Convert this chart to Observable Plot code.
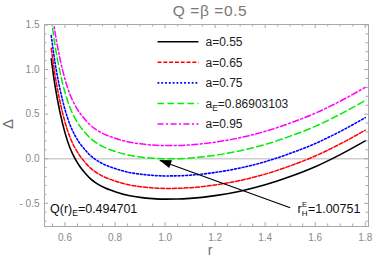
<!DOCTYPE html>
<html><head><meta charset="utf-8">
<script src="https://cdn.jsdelivr.net/npm/d3@7"></script>
<script src="https://cdn.jsdelivr.net/npm/@observablehq/plot@0.6"></script>
<style>body{margin:0;background:#fff} svg{display:block}</style>
</head><body><div id="chart"></div>
<script>
// ---- data ----
const r = [0.545,0.56,0.58,0.60,0.62,0.64,0.66,0.68,0.70,0.72,0.75,0.80,0.85,0.90,0.95,1.00,1.05,1.10,1.20,1.30,1.40,1.50,1.60,1.70,1.80];
const deltaA055 = [1.12,0.82,0.52,0.29,0.12,0.0,-0.09,-0.16,-0.22,-0.265,-0.315,-0.37,-0.41,-0.433,-0.447,-0.453,-0.452,-0.445,-0.414,-0.364,-0.293,-0.20,-0.09,0.046,0.20];
const deltaA065 = [1.24,0.94,0.64,0.41,0.24,0.12,0.03,-0.04,-0.10,-0.145,-0.195,-0.25,-0.29,-0.313,-0.327,-0.333,-0.332,-0.325,-0.294,-0.244,-0.173,-0.08,0.03,0.166,0.32];
const deltaA075 = [1.38,1.08,0.78,0.55,0.38,0.26,0.17,0.10,0.04,-0.005,-0.055,-0.11,-0.15,-0.173,-0.187,-0.193,-0.192,-0.185,-0.154,-0.104,-0.033,0.06,0.17,0.306,0.46];
const deltaAE   = [1.573,1.273,0.973,0.743,0.573,0.453,0.363,0.293,0.233,0.188,0.138,0.083,0.043,0.02,0.006,0.0,0.001,0.008,0.039,0.089,0.16,0.253,0.363,0.499,0.653];
const deltaA095 = [1.72,1.42,1.12,0.89,0.72,0.60,0.51,0.44,0.38,0.335,0.285,0.23,0.19,0.167,0.153,0.147,0.148,0.155,0.186,0.236,0.307,0.40,0.51,0.646,0.80];
const seriesNames = ["a=0.55","a=0.65","a=0.75","aE=0.86903103","a=0.95"];
const xMajor = [0.6,0.8,1.0,1.2,1.4,1.6,1.8];
const xMinor = [0.55,0.65,0.7,0.75,0.85,0.9,0.95,1.05,1.1,1.15,1.25,1.3,1.35,1.45,1.5,1.55,1.65,1.7,1.75];
const yMajor = [-0.5,0.0,0.5,1.0,1.5];
const yMinor = [-0.7,-0.6,-0.4,-0.3,-0.2,-0.1,0.1,0.2,0.3,0.4,0.6,0.7,0.8,0.9,1.1,1.2,1.3,1.4];
const arrowFrom = {r:1.50, d:-0.55};
const arrowTo = {r:0.979, d:-0.02};
const noteQ = {r:0.542, d:-0.615};
const noteRH = {r:1.531, d:-0.615};

// ---- styles ----
const styles = [
  {color:"#000000", dash:null, w:1.6},
  {color:"#ff0000", dash:"4,1.8", w:1.5},
  {color:"#0000ff", dash:"1.8,2", w:1.6},
  {color:"#00ee00", dash:"6.5,3.5", w:1.5},
  {color:"#ff00ff", dash:"6,2.5,2,2.5", w:1.5}
];
const values = [deltaA055,deltaA065,deltaA075,deltaAE,deltaA095];

const W=374,H=257,mL=44,mR=6,mT=24,mB=31;
const fw=W-mL-mR, fh=H-mT-mB;
const frameCol="#a8a8a8";

const lineMarks = values.map((vals,k)=>Plot.line(r.map((x,i)=>({r:x,d:vals[i]})), {
  x:"r", y:"d", stroke: styles[k].color, strokeWidth: styles[k].w,
  strokeDasharray: styles[k].dash || undefined, curve:"monotone-x", clip:true
}));

const chart = Plot.plot({
  width: W, height: H,
  marginLeft: mL, marginRight: mR, marginTop: mT, marginBottom: mB,
  style: {fontFamily: "'Liberation Sans', Arial, sans-serif", fontSize: "10px", color: "#8a8a8a", background: "white", overflow:"visible"},
  x: {domain:[0.518,1.813], ticks: xMajor, tickSize: 0, tickPadding: 7, label: null, tickFormat: d=>d.toFixed(1)},
  y: {domain:[-0.76,1.505], ticks: yMajor, tickSize: 0, tickPadding: 5, label: null,
      tickFormat: d => d<0 ? "- "+Math.abs(d).toFixed(1) : d.toFixed(1)},
  marks: [
    Plot.ruleY([0], {stroke:"#cfcfcf", strokeWidth:1.4}),
    ...lineMarks,
    Plot.link([{}], {x1:()=>arrowFrom.r, y1:()=>arrowFrom.d, x2:()=>arrowTo.r, y2:()=>arrowTo.d, stroke:"#000", strokeWidth:1.2}),
    Plot.frame({stroke: frameCol}),
    Plot.tickX(xMajor, {x:d=>d, insetTop: fh-4, stroke: frameCol}),
    Plot.tickX(xMinor, {x:d=>d, insetTop: fh-2.5, stroke: frameCol}),
    Plot.tickX(xMajor, {x:d=>d, insetBottom: fh-4, stroke: frameCol}),
    Plot.tickX(xMinor, {x:d=>d, insetBottom: fh-2.5, stroke: frameCol}),
    Plot.tickY(yMajor, {y:d=>d, insetRight: fw-4, stroke: frameCol}),
    Plot.tickY(yMinor, {y:d=>d, insetRight: fw-2.5, stroke: frameCol}),
    Plot.tickY(yMajor, {y:d=>d, insetLeft: fw-4, stroke: frameCol}),
    Plot.tickY(yMinor, {y:d=>d, insetLeft: fw-2.5, stroke: frameCol})
  ]
});
document.getElementById("chart").appendChild(chart);

// ---- scales for annotations ----
function scaleFn(name){
  const s = chart.scale(name);
  if (s && typeof s.apply === "function") return v => s.apply(v);
  return d3.scaleLinear(s.domain, s.range);
}
const sx = scaleFn("x"), sy = scaleFn("y");
const svg = d3.select(chart);
const font = "'Liberation Sans', Arial, sans-serif";

// title
svg.append("text").attr("x", (mL+W-mR)/2+4).attr("y", 16).attr("text-anchor","middle")
  .attr("font-family", font).attr("font-size", 15.5).attr("fill", "#777").attr("letter-spacing", 0.6)
  .text("Q =β =0.5");
// axis labels
svg.append("text").attr("transform","translate(13,124) rotate(-90)").attr("text-anchor","middle")
  .attr("font-family", font).attr("font-size", 15).attr("fill","#707070").text("Δ");
svg.append("text").attr("x", 210).attr("y", 255).attr("text-anchor","middle")
  .attr("font-family", font).attr("font-size", 14).attr("fill","#707070").text("r");

// legend
const lg = svg.append("g").attr("font-family", font).attr("font-size", 12).attr("fill", "#222").attr("text-anchor","start");
const rowY = [41.7, 62.3, 82.9, 103.5, 124.1];
styles.forEach((s,k)=>{
  lg.append("line").attr("x1",157.5).attr("x2",198.5).attr("y1",rowY[k]).attr("y2",rowY[k])
    .attr("stroke", s.color).attr("stroke-width", s.w).attr("stroke-dasharray", s.dash);
  const t = lg.append("text").attr("x", 205.5).attr("y", rowY[k]+4.3).attr("text-anchor","start");
  const name = seriesNames[k];
  if (name.startsWith("aE")) {
    t.append("tspan").text("a");
    t.append("tspan").attr("dy", 3).attr("font-size", 8.5).text("E");
    t.append("tspan").attr("dy", -3).text(name.slice(2));
  } else t.text(name);
});

// arrow head
{
  const x1=sx(arrowFrom.r), y1=sy(arrowFrom.d), x2=sx(arrowTo.r), y2=sy(arrowTo.d);
  const L=Math.hypot(x2-x1,y2-y1), ux=(x2-x1)/L, uy=(y2-y1)/L;
  const hl=12, hw=4.2, bx=x2-ux*hl, by=y2-uy*hl;
  svg.append("path").attr("d", `M${x2},${y2}L${bx-uy*hw},${by+ux*hw}L${bx+uy*hw},${by-ux*hw}Z`).attr("fill","#000");
}

// notes
{
  const g = svg.append("g").attr("font-family", font).attr("font-size", 12.5).attr("fill", "#111").attr("text-anchor","start");
  const t = g.append("text").attr("x", sx(noteQ.r)).attr("y", sy(noteQ.d));
  t.append("tspan").text("Q(r)");
  t.append("tspan").attr("dy", 3).attr("font-size", 8.5).text("E");
  t.append("tspan").attr("dy", -3).text("=0.494701");
  const x0 = sx(noteRH.r), y0 = sy(noteRH.d);
  g.append("text").attr("x", x0).attr("y", y0).text("r");
  g.append("text").attr("x", x0+4.6).attr("y", y0-6.5).attr("font-size", 7.5).text("E");
  g.append("text").attr("x", x0+4.3).attr("y", y0+2.5).attr("font-size", 8).text("H");
  g.append("text").attr("x", x0+10.5).attr("y", y0).text("=1.00751");
}
</script>
</body></html>
